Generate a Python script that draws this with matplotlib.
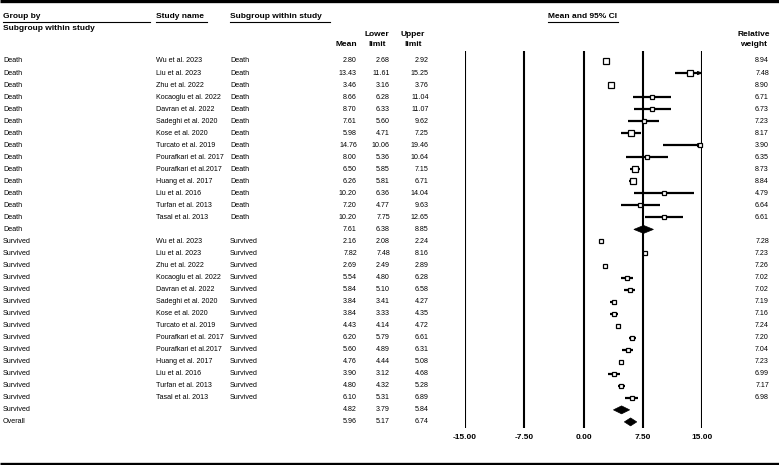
import matplotlib
matplotlib.use("Agg")
import matplotlib.pyplot as plt
from matplotlib.patches import Polygon

# ---------------- data ----------------
studies = ["Wu et al. 2023", "Liu et al. 2023", "Zhu et al. 2022", "Kocaoglu et al. 2022",
           "Davran et al. 2022", "Sadeghi et al. 2020", "Kose et al. 2020", "Turcato et al. 2019",
           "Pourafkari et al. 2017", "Pourafkari et al.2017", "Huang et al. 2017", "Liu et al. 2016",
           "Turfan et al. 2013", "Tasal et al. 2013"]

death_mean = [2.80, 13.43, 3.46, 8.66, 8.70, 7.61, 5.98, 14.76, 8.00, 6.50, 6.26, 10.20, 7.20, 10.20]
death_lower = [2.68, 11.61, 3.16, 6.28, 6.33, 5.60, 4.71, 10.06, 5.36, 5.85, 5.81, 6.36, 4.77, 7.75]
death_upper = [2.92, 15.25, 3.76, 11.04, 11.07, 9.62, 7.25, 19.46, 10.64, 7.15, 6.71, 14.04, 9.63, 12.65]
death_weight = [8.94, 7.48, 8.90, 6.71, 6.73, 7.23, 8.17, 3.90, 6.35, 8.73, 8.84, 4.79, 6.64, 6.61]
death_summary = [7.61, 6.38, 8.85]

surv_mean = [2.16, 7.82, 2.69, 5.54, 5.84, 3.84, 3.84, 4.43, 6.20, 5.60, 4.76, 3.90, 4.80, 6.10]
surv_lower = [2.08, 7.48, 2.49, 4.80, 5.10, 3.41, 3.33, 4.14, 5.79, 4.89, 4.44, 3.12, 4.32, 5.31]
surv_upper = [2.24, 8.16, 2.89, 6.28, 6.58, 4.27, 4.35, 4.72, 6.61, 6.31, 5.08, 4.68, 5.28, 6.89]
surv_weight = [7.28, 7.23, 7.26, 7.02, 7.02, 7.19, 7.16, 7.24, 7.20, 7.04, 7.23, 6.99, 7.17, 6.98]
surv_summary = [4.82, 3.79, 5.84]

overall_summary = [5.96, 5.17, 6.74]

x_ticks = [-15.0, -7.5, 0.0, 7.5, 15.0]
x_tick_labels = ["-15.00", "-7.50", "0.00", "7.50", "15.00"]

# ---------------- build rows ----------------
rows = []
for s, m, lo, hi, w in zip(studies, death_mean, death_lower, death_upper, death_weight):
    rows.append(dict(group="Death", study=s, sub="Death", m=m, lo=lo, hi=hi, w=w, kind="study"))
rows.append(dict(group="Death", study="", sub="", m=death_summary[0], lo=death_summary[1],
                 hi=death_summary[2], w=None, kind="summary"))
for s, m, lo, hi, w in zip(studies, surv_mean, surv_lower, surv_upper, surv_weight):
    rows.append(dict(group="Survived", study=s, sub="Survived", m=m, lo=lo, hi=hi, w=w, kind="study"))
rows.append(dict(group="Survived", study="", sub="", m=surv_summary[0], lo=surv_summary[1],
                 hi=surv_summary[2], w=None, kind="summary"))
rows.append(dict(group="Overall", study="", sub="", m=overall_summary[0], lo=overall_summary[1],
                 hi=overall_summary[2], w=None, kind="summary"))

# ---------------- figure ----------------
W, H = 779, 465
fig = plt.figure(figsize=(W / 100, H / 100), dpi=100)
fig.patch.set_facecolor("white")

body_font = ["Liberation Sans", "DejaVu Sans"]
head_font = ["Liberation Sans", "DejaVu Sans"]
fs = 5.1
hfs = 6.0

# overlay axes in pixel coordinates for the table
tax = fig.add_axes([0, 0, 1, 1])
tax.set_xlim(0, W)
tax.set_ylim(H, 0)
tax.axis("off")

y0 = 61.0
dy = 12.03

def row_y(i):
    return y0 + i * dy

# top / bottom bars
tax.plot([0, W], [1.5, 1.5], color="black", lw=2.4, solid_capstyle="butt")
tax.plot([0, W], [463.5, 463.5], color="black", lw=2.4, solid_capstyle="butt")

# headers
def htext(x, y, s, ha="left"):
    tax.text(x, y, s, ha=ha, va="center", fontsize=hfs, fontweight="bold", family=head_font)

htext(3, 17, "Group by")
tax.plot([3, 150], [22.5, 22.5], color="black", lw=0.8)
htext(3, 28.5, "Subgroup within study")
htext(156, 17, "Study name")
tax.plot([156, 207], [22.5, 22.5], color="black", lw=0.8)
htext(230, 17, "Subgroup within study")
tax.plot([230, 330], [22.5, 22.5], color="black", lw=0.8)
htext(583, 17, "Mean and 95% CI", ha="center")
tax.plot([548, 618], [22.5, 22.5], color="black", lw=0.8)
htext(357, 44.5, "Mean", ha="right")
htext(377, 35, "Lower", ha="center")
htext(377, 44.5, "limit", ha="center")
htext(413, 35, "Upper", ha="center")
htext(413, 44.5, "limit", ha="center")
htext(754, 35, "Relative", ha="center")
htext(754, 45, "weight", ha="center")

# table body
for i, r in enumerate(rows):
    y = row_y(i)
    kw = dict(va="center", fontsize=fs, family=body_font)
    tax.text(3, y, r["group"], ha="left", **kw)
    if r["study"]:
        tax.text(156, y, r["study"], ha="left", **kw)
        tax.text(230, y, r["sub"], ha="left", **kw)
    tax.text(357, y, f"{r['m']:.2f}", ha="right", **kw)
    tax.text(390, y, f"{r['lo']:.2f}", ha="right", **kw)
    tax.text(429, y, f"{r['hi']:.2f}", ha="right", **kw)
    if r["w"] is not None:
        tax.text(769, y, f"{r['w']:.2f}", ha="right", **kw)

# ---------------- forest axes ----------------
px_left, px_right = 465.0, 702.0   # -15 .. 15
px_top, px_bottom = 51.0, 428.0
ax = fig.add_axes([px_left / W, 1 - px_bottom / H, (px_right - px_left) / W, (px_bottom - px_top) / H])
ax.set_xlim(-15, 15)
ax.set_ylim((px_bottom - y0) / dy, (px_top - y0) / dy)
ax.axis("off")
ax.patch.set_alpha(0)

for xt in x_ticks:
    ax.axvline(xt, color="black", lw=1.5, zorder=1)

xmin, xmax = -15, 15
for i, r in enumerate(rows):
    if r["kind"] == "study":
        lo = max(r["lo"], xmin)
        hi = min(r["hi"], xmax)
        ax.plot([lo, hi], [i, i], color="black", lw=1.6, solid_capstyle="butt", zorder=2)
        if r["hi"] > xmax:
            ax.annotate("", xy=(xmax, i), xytext=(xmax - 1.3, i),
                        arrowprops=dict(arrowstyle="-|>", color="black", lw=1.0,
                                        mutation_scale=5, shrinkA=0, shrinkB=0), zorder=3)
        ms = 1.4 + 0.3 * r["w"]
        ax.plot([r["m"]], [i], marker="s", ms=ms, mfc="white", mec="black", mew=0.9,
                linestyle="none", zorder=4, clip_on=False)
    else:
        h = 0.33
        poly = Polygon([[r["lo"], i], [r["m"], i - h], [r["hi"], i], [r["m"], i + h]],
                       closed=True, facecolor="black", edgecolor="black", lw=0.5, zorder=4)
        ax.add_patch(poly)

# tick labels
for xt, lab in zip(x_ticks, x_tick_labels):
    tax.text(px_left + (xt - xmin) / (xmax - xmin) * (px_right - px_left), 437, lab,
             ha="center", va="center", fontsize=hfs, fontweight="bold", family=head_font)

fig.savefig("out.png", dpi=100, facecolor="white")
